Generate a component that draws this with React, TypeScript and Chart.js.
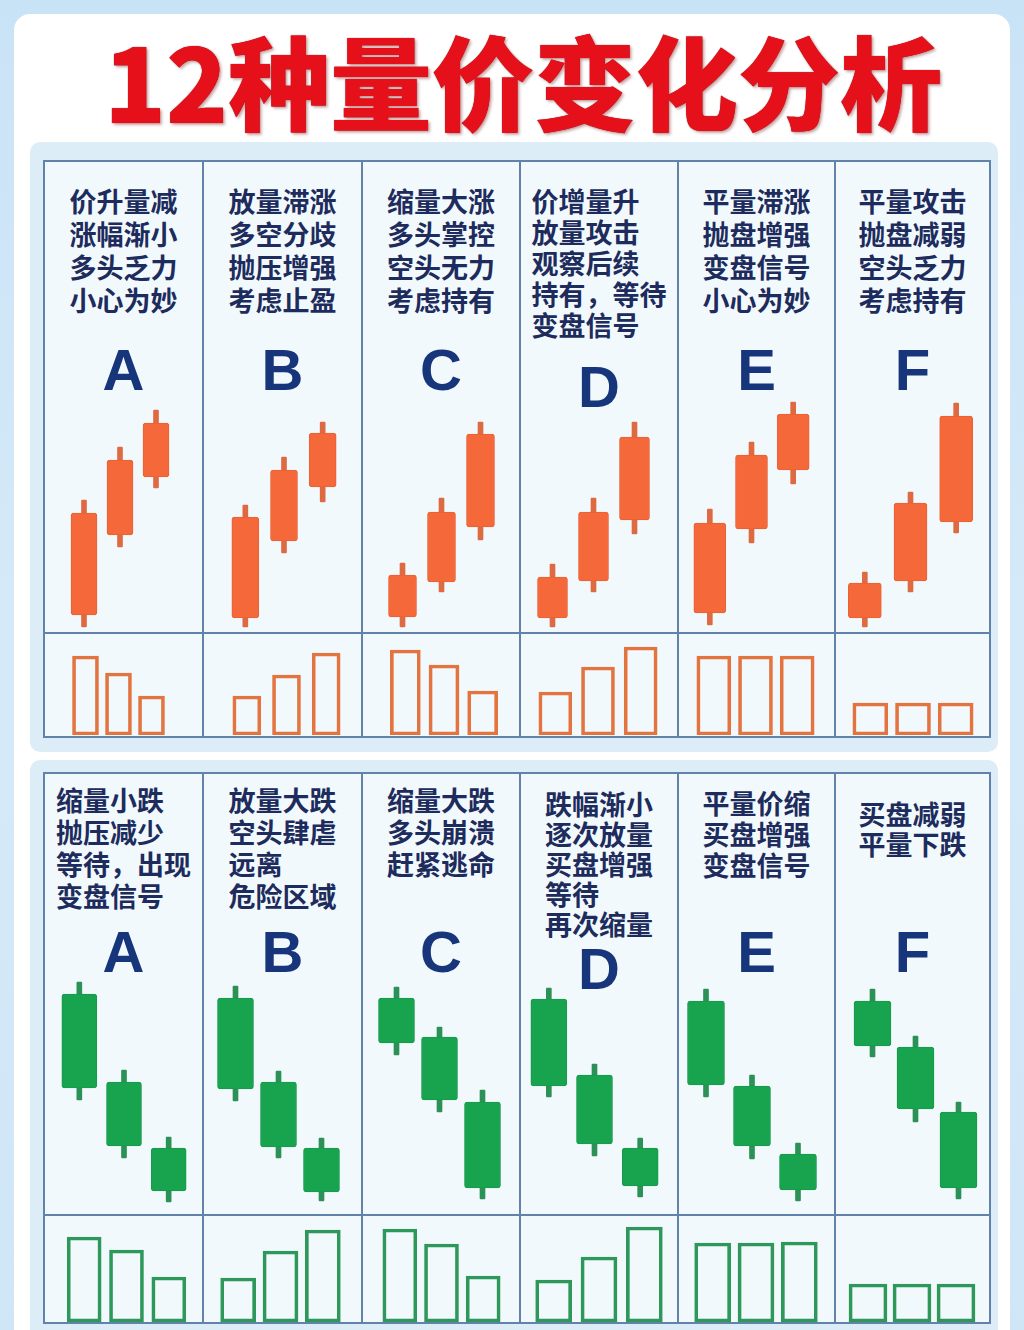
import React, { useEffect, useRef } from 'react';
import { Chart, registerables } from 'chart.js';

Chart.register(...registerables);

// ---------------- DATA ----------------
const titleText = '12种量价变化分析';
const patternLetters = ['A', 'B', 'C', 'D', 'E', 'F'];
const dayLabels = ['第1根', '第2根', '第3根'];

const risingNotes = [
  ['价升量减', '涨幅渐小', '多头乏力', '小心为妙'],
  ['放量滞涨', '多空分歧', '抛压增强', '考虑止盈'],
  ['缩量大涨', '多头掌控', '空头无力', '考虑持有'],
  ['价增量升', '放量攻击', '观察后续', '持有，等待', '变盘信号'],
  ['平量滞涨', '抛盘增强', '变盘信号', '小心为妙'],
  ['平量攻击', '抛盘减弱', '空头乏力', '考虑持有'],
];
const fallingNotes = [
  ['缩量小跌', '抛压减少', '等待，出现', '变盘信号'],
  ['放量大跌', '空头肆虐', '远离', '危险区域'],
  ['缩量大跌', '多头崩溃', '赶紧逃命'],
  ['跌幅渐小', '逐次放量', '买盘增强', '等待', '再次缩量'],
  ['平量价缩', '买盘增强', '变盘信号'],
  ['买盘减弱', '平量下跌'],
];

// rising (red) candles: open / close / low / high, volume
const risingOpen = [[10, 50, 79], [8.5, 47, 74], [9, 26.5, 54], [8.5, 27, 57.5], [11, 53, 82.5], [8.5, 27, 56.5]];
const risingClose = [[61, 87.5, 106], [59, 82.5, 101], [30, 61.5, 100.5], [29, 61.5, 99], [56, 90, 110.5], [26, 66, 109.5]];
const risingLow = [[4, 44, 73.5], [4, 41, 66.5], [4, 21.5, 47.5], [4, 21.5, 50.5], [5, 46, 75.5], [4, 21.5, 51]];
const risingHigh = [[67.5, 94, 112.5], [65, 89, 106.5], [36, 68.5, 106.5], [35.5, 68.5, 106.5], [63, 96.5, 116.5], [31.5, 71.5, 116]];
const risingVolume = [[79, 62, 39], [39, 60, 82], [85, 70, 44], [43, 68, 88], [79, 79, 79], [32, 32, 32]];

// falling (green) candles
const fallingOpen = [[110.5, 66.5, 33.5], [108.5, 66.5, 33.5], [108.5, 89, 56.5], [108, 70, 33.5], [107, 64.5, 30.5], [107, 84, 51.5]];
const fallingClose = [[63.5, 34.5, 12], [63, 34, 11.5], [86, 57.5, 13.5], [64.5, 35.5, 14.5], [65, 34.5, 12.5], [84.5, 53, 13.5]];
const fallingHigh = [[116.5, 72.5, 39], [114.5, 72, 38.5], [114, 94, 62.5], [113.5, 75.5, 38.5], [113, 70, 36], [113, 89.5, 56.5]];
const fallingLow = [[57.5, 28.5, 6.5], [57, 28.5, 7], [80, 51.5, 8], [59, 29.5, 9], [59, 28, 7], [79, 46.5, 8]];
const fallingVolume = [[85, 72, 45], [44, 71, 92], [93, 78, 46], [42, 65, 95], [79, 79, 80], [38, 38, 38]];

const PRICE_MAX = 120;
const VOLUME_MAX = 100;

// ---------------- LAYOUT / STYLE ----------------
const COL_X = [44, 203, 362, 520, 678, 835, 990];

// [center, spacing, thickness]
const topCandleLayout = [[120, 36, 26], [283.5, 38.5, 27], [441, 39, 28], [593.5, 41, 30], [751, 41.5, 32], [910.5, 45.5, 33]];
const topVolumeLayout = [[118, 33, 26], [286, 39.5, 28], [444, 38.5, 30], [598, 42.75, 33], [755.5, 41.75, 34], [912.5, 42.75, 35]];
const botCandleLayout = [[123.5, 44.5, 35], [278, 43, 36], [439, 43, 36], [594.5, 45.5, 36], [752, 46, 37], [915, 43, 37]];
const botVolumeLayout = [[126, 42.25, 34], [280.5, 42.25, 35], [441.5, 41.75, 34], [599, 45.25, 36], [755.5, 43.25, 36], [912, 44, 38]];

const ORANGE = '#F4683A';
const ORANGE_EDGE = '#EA6134';
const ORANGE_WICK = '#DE6A42';
const ORANGE_VOL = '#E3733F';
const GREEN = '#18A34F';
const GREEN_EDGE = '#179A4B';
const GREEN_WICK = '#2C9156';
const GREEN_VOL = '#2E985A';
const GRID = '#6283A9';
const NAVY = '#1D2C5C';
const LETTER = '#17357A';

const CJK = "'Noto Sans CJK SC', 'Noto Sans', sans-serif";
const LATIN = "'Liberation Sans', Arial, sans-serif";

type CandleProps = {
  open: number[]; close: number[]; low: number[]; high: number[];
  layout: number[]; top: number; height: number;
  body: string; edge: string; wick: string;
};

function CandleChart({ open, close, low, high, layout, top, height, body, edge, wick }: CandleProps) {
  const ref = useRef<HTMLCanvasElement>(null);
  const [center, spacing, thickness] = layout;
  const width = Math.round(spacing * 3);
  const left = Math.round(center - width / 2);
  useEffect(() => {
    if (!ref.current) return;
    const chart = new Chart(ref.current, {
      type: 'bar',
      data: {
        labels: dayLabels,
        datasets: [
          {
            label: 'body',
            data: open.map((o, i) => [o, close[i]]) as any,
            backgroundColor: body,
            borderColor: edge,
            borderWidth: 1,
            borderRadius: 3,
            borderSkipped: false,
            barThickness: thickness,
            grouped: false,
            order: 0,
          } as any,
          {
            label: 'wick',
            data: low.map((l, i) => [l, high[i]]) as any,
            backgroundColor: wick,
            borderWidth: 0,
            borderRadius: 1,
            borderSkipped: false,
            barThickness: 5,
            grouped: false,
            order: 1,
          } as any,
        ],
      },
      options: {
        animation: false,
        responsive: false,
        maintainAspectRatio: false,
        events: [],
        layout: { padding: 0 },
        plugins: { legend: { display: false }, tooltip: { enabled: false } },
        scales: {
          x: { display: false },
          y: { display: false, min: 0, max: PRICE_MAX },
        },
      },
    });
    return () => chart.destroy();
  }, []);
  return <canvas ref={ref} width={width} height={height} style={{ position: 'absolute', left, top, width, height }} />;
}

type VolumeProps = { volume: number[]; layout: number[]; top: number; height: number; color: string };

function VolumeChart({ volume, layout, top, height, color }: VolumeProps) {
  const ref = useRef<HTMLCanvasElement>(null);
  const [center, spacing, thickness] = layout;
  const width = Math.round(spacing * 3);
  const left = Math.round(center - width / 2);
  useEffect(() => {
    if (!ref.current) return;
    const chart = new Chart(ref.current, {
      type: 'bar',
      data: {
        labels: dayLabels,
        datasets: [
          {
            label: 'volume',
            data: volume,
            backgroundColor: 'rgba(0,0,0,0)',
            borderColor: color,
            borderWidth: 3,
            borderSkipped: false,
            barThickness: thickness,
          } as any,
        ],
      },
      options: {
        animation: false,
        responsive: false,
        maintainAspectRatio: false,
        events: [],
        layout: { padding: 0 },
        plugins: { legend: { display: false }, tooltip: { enabled: false } },
        scales: {
          x: { display: false },
          y: { display: false, min: 0, max: VOLUME_MAX },
        },
      },
    });
    return () => chart.destroy();
  }, []);
  return <canvas ref={ref} width={width} height={height} style={{ position: 'absolute', left, top, width, height }} />;
}

function Grid({ top, bottom, divider }: { top: number; bottom: number; divider: number }) {
  const left = COL_X[0] - 1;
  const right = COL_X[COL_X.length - 1] + 1;
  return (
    <>
      <div style={{ position: 'absolute', left, top, width: right - left, height: bottom - top, background: '#F2F9FD', boxSizing: 'border-box', border: `2px solid ${GRID}` }} />
      {COL_X.slice(1, -1).map((x, i) => (
        <div key={i} style={{ position: 'absolute', left: x - 1, top, width: 2, height: bottom - top, background: GRID }} />
      ))}
      <div style={{ position: 'absolute', left, top: divider - 1, width: right - left, height: 2, background: GRID }} />
    </>
  );
}

function Notes({ lines, col, top, lineHeight }: { lines: string[]; col: number; top: number; lineHeight: number }) {
  const left = COL_X[col];
  const width = COL_X[col + 1] - COL_X[col];
  return (
    <div style={{ position: 'absolute', left, top, width, textAlign: 'center' }}>
      <div style={{ display: 'inline-block', textAlign: 'left', fontFamily: CJK, fontWeight: 700, fontSize: 27, lineHeight: `${lineHeight}px`, color: NAVY, whiteSpace: 'nowrap' }}>
        {lines.map((l, i) => (
          <div key={i}>{l}</div>
        ))}
      </div>
    </div>
  );
}

function Letter({ text, col, top }: { text: string; col: number; top: number }) {
  const left = COL_X[col];
  const width = COL_X[col + 1] - COL_X[col];
  return (
    <div style={{ position: 'absolute', left, top, width, textAlign: 'center', fontFamily: LATIN, fontWeight: 700, fontSize: 58, lineHeight: '58px', color: LETTER }}>
      {text}
    </div>
  );
}

const topNoteTop = [184, 184, 184, 185, 184, 184];
const topNoteLH = [33, 33, 33, 31, 33, 33];
const topLetterTop = [341, 341, 341, 358, 341, 341];
const botNoteTop = [784, 784, 784, 789, 787, 799];
const botNoteLH = [32, 32, 32, 30, 31, 30];
const botLetterTop = [923, 923, 923, 940, 923, 923];

export default function App() {
  return (
    <div style={{ position: 'absolute', left: 0, top: 0, width: 1024, height: 1330, overflow: 'hidden', background: 'linear-gradient(180deg, #C9E3F6 0%, #D5EAF8 50%, #CFE6F7 100%)' }}>
      {/* white card */}
      <div style={{ position: 'absolute', left: 14, top: 14, width: 996, height: 1340, background: '#FFFFFF', borderRadius: 16 }} />
      {/* title */}
      <div style={{ position: 'absolute', left: 0, top: 28, width: 1046, textAlign: 'center', fontFamily: CJK, fontWeight: 900, fontSize: 102, lineHeight: '102px', color: '#E5101A', textShadow: '0 0 1px #7A0008, 2px 2px 3px rgba(110,0,0,0.35)', whiteSpace: 'nowrap' }}>
        {titleText}
      </div>

      {/* top panel */}
      <div style={{ position: 'absolute', left: 30, top: 142, width: 968, height: 610, background: '#DDEDF8', borderRadius: 10 }} />
      <Grid top={160} bottom={738} divider={633} />
      {risingNotes.map((lines, i) => (
        <Notes key={'rn' + i} lines={lines} col={i} top={topNoteTop[i]} lineHeight={topNoteLH[i]} />
      ))}
      {patternLetters.map((t, i) => (
        <Letter key={'rl' + i} text={t} col={i} top={topLetterTop[i]} />
      ))}
      {patternLetters.map((_, i) => (
        <CandleChart key={'rc' + i} open={risingOpen[i]} close={risingClose[i]} low={risingLow[i]} high={risingHigh[i]}
          layout={topCandleLayout[i]} top={395} height={240} body={ORANGE} edge={ORANGE_EDGE} wick={ORANGE_WICK} />
      ))}
      {patternLetters.map((_, i) => (
        <VolumeChart key={'rv' + i} volume={risingVolume[i]} layout={topVolumeLayout[i]} top={635} height={100} color={ORANGE_VOL} />
      ))}

      {/* bottom panel */}
      <div style={{ position: 'absolute', left: 30, top: 760, width: 968, height: 600, background: '#DDEDF8', borderRadius: 10 }} />
      <Grid top={772} bottom={1324} divider={1215} />
      {fallingNotes.map((lines, i) => (
        <Notes key={'fn' + i} lines={lines} col={i} top={botNoteTop[i]} lineHeight={botNoteLH[i]} />
      ))}
      {patternLetters.map((t, i) => (
        <Letter key={'fl' + i} text={t} col={i} top={botLetterTop[i]} />
      ))}
      {patternLetters.map((_, i) => (
        <CandleChart key={'fc' + i} open={fallingOpen[i]} close={fallingClose[i]} low={fallingLow[i]} high={fallingHigh[i]}
          layout={botCandleLayout[i]} top={975} height={240} body={GREEN} edge={GREEN_EDGE} wick={GREEN_WICK} />
      ))}
      {patternLetters.map((_, i) => (
        <VolumeChart key={'fv' + i} volume={fallingVolume[i]} layout={botVolumeLayout[i]} top={1222} height={100} color={GREEN_VOL} />
      ))}
    </div>
  );
}
